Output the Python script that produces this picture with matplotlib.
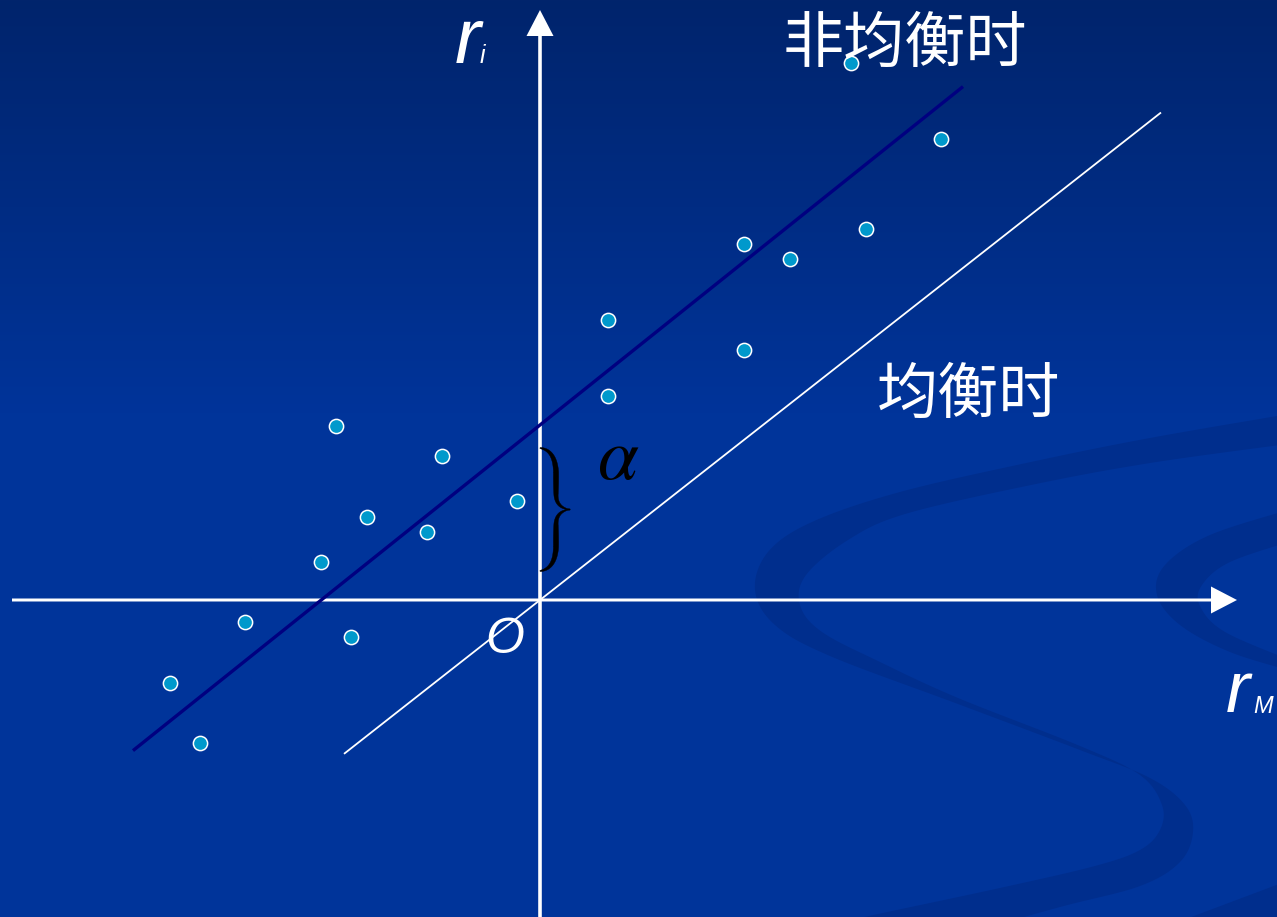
import numpy as np
import matplotlib
matplotlib.use("Agg")
import matplotlib.pyplot as plt
from matplotlib.patches import Polygon

# ---- data (origin at axis intersection, 1 unit = 100 px) ----
rm_values = [3.11, 4.01, 2.04, 2.50, 3.26, 0.68, 2.04, 0.68, -2.04, -0.98,
             -1.73, -1.13, -0.23, -2.19, -2.95, -1.89, -3.70, -3.40]
ri_values = [5.37, 4.61, 3.56, 3.41, 3.71, 2.80, 2.50, 2.04, 1.74, 1.44,
             0.83, 0.68, 0.99, 0.38, -0.22, -0.37, -0.83, -1.43]

alpha_noneq = 1.75
beta_noneq = 0.80
x_range_noneq = [-4.07, 4.23]

alpha_eq = 0.0
beta_eq = 0.785
x_range_eq = [-1.96, 6.21]

label_noneq = "非均衡时"
label_eq = "均衡时"

# ---- figure ----
W, H, DPI = 1277, 917, 100
fig = plt.figure(figsize=(W / DPI, H / DPI), dpi=DPI)


def catmull(pts, n=12):
    pts = np.asarray(pts, float)
    P = np.vstack([pts[0], pts, pts[-1]])
    out = []
    for i in range(1, len(P) - 2):
        p0, p1, p2, p3 = P[i - 1], P[i], P[i + 1], P[i + 2]
        for t in np.linspace(0, 1, n, endpoint=False):
            t2, t3 = t * t, t * t * t
            out.append(0.5 * ((2 * p1) + (-p0 + p2) * t +
                              (2 * p0 - 5 * p1 + 4 * p2 - p3) * t2 +
                              (-p0 + 3 * p1 - 3 * p2 + p3) * t3))
    out.append(P[-2])
    return np.array(out)


# background axes (pixel coords)
bg = fig.add_axes([0, 0, 1, 1])
bg.set_xlim(0, W)
bg.set_ylim(H, 0)
bg.axis("off")
top = np.array([1, 36, 108]) / 255
bot = np.array([0, 52, 154]) / 255
t = np.clip(np.linspace(0, 1, H) / 0.45, 0, 1)[:, None]
grad = top[None, :] * (1 - t) + bot[None, :] * t
img = np.repeat(grad[:, None, :], 2, axis=1)
bg.imshow(img, extent=[0, W, H, 0], aspect="auto", zorder=0)

swoosh_col = (0 / 255, 46 / 255, 141 / 255)
outer = [(1295, 413), (1150, 438), (1031, 462), (900, 492), (812, 522), (768, 552),
         (755, 590), (775, 625), (830, 656), (958, 704), (1080, 750), (1150, 778),
         (1185, 805), (1193, 832), (1180, 862), (1140, 886), (1060, 907), (960, 935)]
inner = [(1295, 443), (1150, 463), (1031, 485), (905, 514), (848, 540), (806, 575),
         (800, 605), (822, 632), (880, 662), (958, 698), (1080, 746), (1140, 775),
         (1162, 805), (1160, 830), (1140, 850), (1095, 866), (1000, 888), (860, 918),
         (790, 935)]
o = catmull(outer)
i_ = catmull(inner)
bg.add_patch(Polygon(np.vstack([o, i_[::-1]]), closed=True, fc=swoosh_col,
                     ec="none", zorder=1))
cres_o = [(1295, 508), (1210, 535), (1165, 565), (1157, 595), (1180, 625), (1230, 652),
          (1295, 672)]
cres_i = [(1295, 540), (1230, 562), (1202, 585), (1200, 606), (1225, 632), (1295, 662)]
bg.add_patch(Polygon(np.vstack([catmull(cres_o), catmull(cres_i)[::-1]]), closed=True,
                     fc=swoosh_col, ec="none", zorder=1))
bg.add_patch(Polygon([(1295, 878), (1170, 925), (1295, 925)], closed=True,
                     fc=swoosh_col, ec="none", zorder=1))

# main axes: origin at pixel (540, 600), 100 px per unit
ax = fig.add_axes([0, 0, 1, 1])
ax.patch.set_alpha(0)
ox, oy, s = 540, 600, 100.0
ax.set_xlim(-ox / s, (W - ox) / s)
ax.set_ylim(-(H - oy) / s, oy / s)
ax.axis("off")


def p(px, py):
    return ((px - ox) / s, (oy - py) / s)


# coordinate axes with arrows
ax.arrow(-5.28, 0, 12.25, 0, width=0.03, head_width=0.27, head_length=0.26,
         length_includes_head=True, fc="white", ec="none", zorder=3)
ax.arrow(0, -3.3, 0, 9.2, width=0.036, head_width=0.27, head_length=0.26,
         length_includes_head=True, fc="white", ec="none", zorder=3)

# regression lines
xn = np.array(x_range_noneq)
ax.plot(xn, alpha_noneq + beta_noneq * xn, color="#000080", lw=2.4,
        solid_capstyle="butt", zorder=4)
xe = np.array(x_range_eq)
ax.plot(xe, alpha_eq + beta_eq * xe, color="white", lw=1.3,
        solid_capstyle="butt", zorder=4)

# scatter
ax.scatter(rm_values, ri_values, s=105, c="#0099CC", edgecolors="white",
           linewidths=1.1, zorder=5)


# brace for alpha (filled, variable-width stroke), pixel geometry
def qbez(a, b, c, n=20):
    tt = np.linspace(0, 1, n)[:, None]
    a, b, c = map(np.asarray, (a, b, c))
    return (1 - tt) ** 2 * a + 2 * (1 - tt) * tt * b + tt ** 2 * c


ymid = 509.5
half = np.vstack([qbez((540, 448), (555, 450), (556, 472)),
                  np.linspace((556, 472), (556, 494), 10),
                  qbez((556, 494), (556, 508), (570, ymid))])
seg = np.r_[0, np.cumsum(np.hypot(*np.diff(half, axis=0).T))]
u = seg / seg[-1]
wid = 1.0 + 4.2 * np.sin(np.pi * np.clip(u * 1.05, 0, 1)) ** 0.8
full = np.vstack([half, np.c_[half[::-1, 0], 2 * ymid - half[::-1, 1]]])
wfull = np.r_[wid, wid[::-1]]
d = np.gradient(full, axis=0)
nrm = np.c_[-d[:, 1], d[:, 0]] / np.hypot(d[:, 0], d[:, 1])[:, None]
left = full + nrm * wfull[:, None] / 2
right = full - nrm * wfull[:, None] / 2
poly = np.vstack([left, right[::-1]])
poly_data = np.c_[(poly[:, 0] - ox) / s, (oy - poly[:, 1]) / s]
ax.add_patch(Polygon(poly_data, closed=True, fc="black", ec="black", lw=0.3, zorder=6))

plt.rcParams["mathtext.fontset"] = "stix"
ax.text(*p(618, 458), r"$\alpha$", fontsize=53, color="black", ha="center",
        va="center", zorder=6)

# labels
ax.text(*p(505, 640), "O", fontsize=36, color="white", style="italic",
        family="Liberation Sans", ha="center", va="center", zorder=6)
ax.text(*p(455, 63), "r", fontsize=56, color="white", style="italic",
        family="Liberation Sans", ha="left", va="baseline", zorder=6)
ax.text(*p(480, 63), "i", fontsize=18, color="white", style="italic",
        family="Liberation Sans", ha="left", va="baseline", zorder=6)
ax.text(*p(1226, 712), "r", fontsize=52, color="white", style="italic",
        family="Liberation Sans", ha="left", va="baseline", zorder=6)
ax.text(*p(1253, 713), "M", fontsize=17, color="white", style="italic",
        family="Liberation Sans", ha="left", va="baseline", zorder=6)

cjk = ["Noto Sans CJK SC", "DejaVu Sans"]
ax.text(*p(905, 45), label_noneq, fontsize=44, color="white", family=cjk,
        weight="light", ha="center", va="center", zorder=7)
ax.text(*p(968, 396), label_eq, fontsize=44, color="white", family=cjk,
        weight="light", ha="center", va="center", zorder=7)

fig.savefig("out.png", dpi=DPI)
